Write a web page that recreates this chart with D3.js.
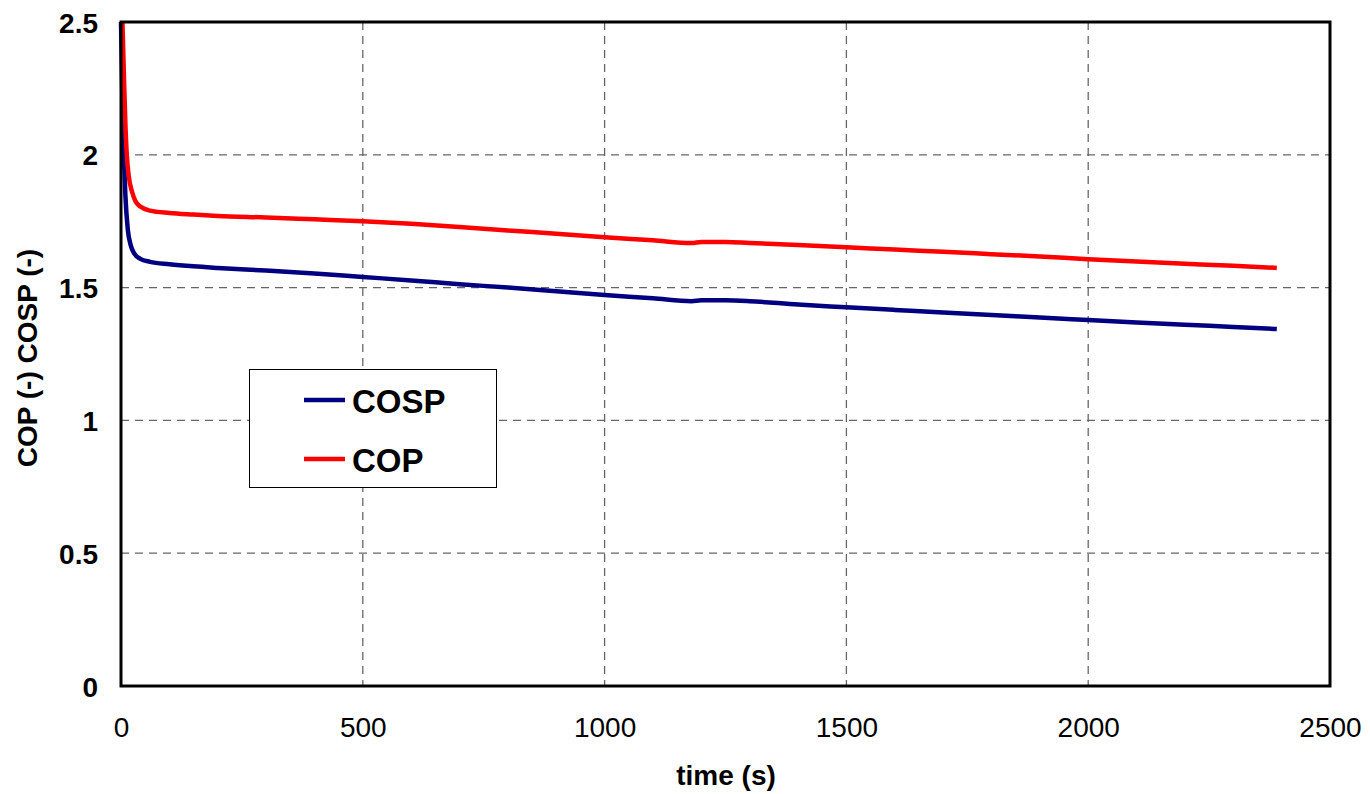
<!DOCTYPE html>
<html>
<head>
<meta charset="utf-8">
<script src="https://cdn.jsdelivr.net/npm/d3@7"></script>
<style>
  html, body { margin: 0; padding: 0; background: #fff; }
  svg { display: block; font-family: "Liberation Sans", Arial, sans-serif; }
</style>
</head>
<body>
<svg id="chart" width="1370" height="794"></svg>
<script>
// Sample times (s)
const timeCOP  = [3, 6, 9, 12, 16, 23, 30, 40, 60, 100, 150, 200, 300, 400, 500, 600, 700, 800, 900, 1000, 1100, 1180, 1200, 1250, 1300, 1400, 1500, 1600, 1700, 1800, 1900, 2000, 2100, 2200, 2300, 2390];
const valuesCOP = [2.5, 2.3, 2.12, 2.0, 1.92, 1.86, 1.825, 1.805, 1.79, 1.781, 1.775, 1.77, 1.764, 1.757, 1.75, 1.74, 1.728, 1.715, 1.703, 1.69, 1.678, 1.668, 1.672, 1.672, 1.668, 1.66, 1.652, 1.643, 1.635, 1.626, 1.617, 1.607, 1.598, 1.59, 1.582, 1.574];

const timeCOSP  = [0, 2, 4, 6, 9, 14, 20, 28, 40, 60, 100, 150, 200, 300, 400, 500, 600, 700, 800, 900, 1000, 1100, 1180, 1200, 1250, 1300, 1400, 1500, 1600, 1700, 1800, 1900, 2000, 2100, 2200, 2300, 2390];
const valuesCOSP = [2.5, 2.3, 2.1, 2.0, 1.85, 1.72, 1.66, 1.627, 1.608, 1.597, 1.588, 1.58, 1.574, 1.564, 1.553, 1.54, 1.527, 1.513, 1.5, 1.486, 1.472, 1.46, 1.449, 1.452, 1.452, 1.449, 1.436, 1.426, 1.416, 1.406, 1.397, 1.387, 1.378, 1.369, 1.36, 1.352, 1.344];

const xTicks = [0, 500, 1000, 1500, 2000, 2500];
const yTicks = [0, 0.5, 1, 1.5, 2, 2.5];

const seriesNames = ["COSP", "COP"];
const seriesColors = ["#000080", "#ff0000"];

const svg = d3.select("#chart");
const plotLeft = 121, plotRight = 1330, plotTop = 22, plotBottom = 686;

const x = d3.scaleLinear().domain([0, 2500]).range([plotLeft, plotRight]);
const y = d3.scaleLinear().domain([0, 2.5]).range([plotBottom, plotTop]);

// Grid lines
const grid = svg.append("g");
grid.selectAll("line.v").data(xTicks.slice(1, -1)).enter().append("line")
  .attr("x1", d => x(d)).attr("x2", d => x(d))
  .attr("y1", plotTop).attr("y2", plotBottom)
  .attr("stroke", "#666").attr("stroke-width", 1.3).attr("stroke-dasharray", "8,6");
grid.selectAll("line.h").data(yTicks.slice(1, -1)).enter().append("line")
  .attr("x1", plotLeft).attr("x2", plotRight)
  .attr("y1", d => y(d)).attr("y2", d => y(d))
  .attr("stroke", "#666").attr("stroke-width", 1.3).attr("stroke-dasharray", "8,6");

// Axes (labels only; frame drawn separately)
const xAxis = svg.append("g").attr("transform", `translate(0,${plotBottom})`)
  .call(d3.axisBottom(x).tickValues(xTicks).tickSize(0).tickFormat(d3.format("d")));
xAxis.select(".domain").remove();
xAxis.selectAll("text").attr("y", 51).attr("dy", null)
  .attr("font-size", 28).attr("fill", "#000")
  .attr("font-family", "Liberation Sans, Arial, sans-serif");

const yAxis = svg.append("g").attr("transform", `translate(${plotLeft},0)`)
  .call(d3.axisLeft(y).tickValues(yTicks).tickSize(0).tickFormat(d => String(d)));
yAxis.select(".domain").remove();
yAxis.selectAll("text").attr("x", -23).attr("dy", "0.36em")
  .attr("font-size", 28).attr("font-weight", "bold").attr("fill", "#000")
  .attr("font-family", "Liberation Sans, Arial, sans-serif");

// Lines
const line = d3.line().x(d => x(d[0])).y(d => y(d[1])).curve(d3.curveMonotoneX);
const dataCOSP = timeCOSP.map((t, i) => [t, valuesCOSP[i]]);
const dataCOP = timeCOP.map((t, i) => [t, valuesCOP[i]]);

svg.append("path").datum(dataCOSP).attr("d", line)
  .attr("fill", "none").attr("stroke", seriesColors[0]).attr("stroke-width", 4.5);
svg.append("path").datum(dataCOP).attr("d", line)
  .attr("fill", "none").attr("stroke", seriesColors[1]).attr("stroke-width", 4.5);

// Plot frame
svg.append("rect").attr("x", plotLeft).attr("y", plotTop)
  .attr("width", plotRight - plotLeft).attr("height", plotBottom - plotTop)
  .attr("fill", "none").attr("stroke", "#000").attr("stroke-width", 3);

// Axis titles
svg.append("text").attr("x", 726).attr("y", 785)
  .attr("text-anchor", "middle").attr("font-size", 28).attr("font-weight", "bold")
  .text("time (s)");
svg.append("text").attr("transform", `translate(37,358) rotate(-90)`)
  .attr("text-anchor", "middle").attr("font-size", 28).attr("font-weight", "bold")
  .text("COP (-) COSP (-)");

// Legend
const lg = svg.append("g");
lg.append("rect").attr("x", 249.5).attr("y", 369.5).attr("width", 247).attr("height", 118)
  .attr("fill", "#fff").attr("stroke", "#000").attr("stroke-width", 1);
seriesNames.forEach((name, i) => {
  const cy = 400 + i * 59;
  lg.append("line").attr("x1", 304).attr("x2", 345).attr("y1", cy).attr("y2", cy)
    .attr("stroke", seriesColors[i]).attr("stroke-width", 4.5);
  lg.append("text").attr("x", 352).attr("y", cy + 13)
    .attr("font-size", 33).attr("font-weight", "bold").text(name);
});
</script>
</body>
</html>
